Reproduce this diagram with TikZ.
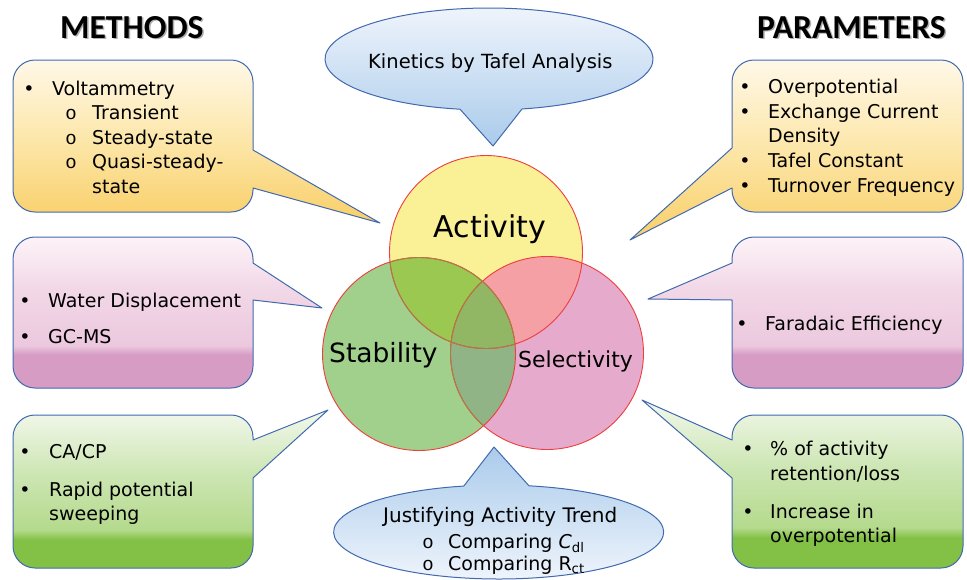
\documentclass[tikz,border=0pt]{standalone}
\usepackage{fontspec}
\newfontfamily\cs{DejaVu Sans}
\newfontfamily\tf{Carlito}
\newfontfamily\mo{Liberation Mono}
\definecolor{bord}{RGB}{65,105,175}
\definecolor{y1}{RGB}{255,248,232}
\definecolor{y2}{RGB}{252,230,168}
\definecolor{y3}{RGB}{249,207,104}
\definecolor{p1}{RGB}{253,243,247}
\definecolor{p2}{RGB}{242,216,231}
\definecolor{p3}{RGB}{236,200,222}
\definecolor{p4}{RGB}{214,156,196}
\definecolor{g1}{RGB}{242,248,236}
\definecolor{g2}{RGB}{205,230,180}
\definecolor{g3}{RGB}{180,218,140}
\definecolor{g4}{RGB}{130,192,70}
\definecolor{b1}{RGB}{240,245,252}
\definecolor{b2}{RGB}{170,203,235}
\definecolor{colA}{RGB}{250,240,150}
\definecolor{colT}{RGB}{160,208,140}
\definecolor{colL}{RGB}{230,170,205}
\definecolor{colAT}{RGB}{155,200,80}
\definecolor{colAL}{RGB}{245,160,165}
\definecolor{colTL}{RGB}{145,180,135}
\definecolor{colC}{RGB}{145,182,100}
\definecolor{redl}{RGB}{238,62,62}
\definecolor{brownl}{RGB}{170,125,70}
\pgfdeclareverticalshading{yelsh}{100bp}{color(0bp)=(y3); color(25bp)=(y3); color(50bp)=(y2); color(75bp)=(y1); color(100bp)=(y1)}
\pgfdeclareverticalshading{pinksh}{100bp}{color(0bp)=(p4); color(25bp)=(p4); color(36bp)=(p4); color(39bp)=(p3); color(58bp)=(p2); color(75bp)=(p1); color(100bp)=(p1)}
\pgfdeclareverticalshading{grnsh}{100bp}{color(0bp)=(g4); color(25bp)=(g4); color(34bp)=(g4); color(37bp)=(g3); color(55bp)=(g2); color(75bp)=(g1); color(100bp)=(g1)}
\pgfdeclareverticalshading{blutop}{100bp}{color(0bp)=(b2); color(25bp)=(b2); color(75bp)=(b1); color(100bp)=(b1)}
\pgfdeclareverticalshading{blubot}{100bp}{color(0bp)=(b1); color(25bp)=(b1); color(75bp)=(b2); color(100bp)=(b2)}
% callout with pointer on right edge: x1 y1 x2 y2 pa pb tipx tipy
\newcommand\callR[8]{%
  ({#1+22},#2) -- ({#3-22},#2) arc[start angle=270,end angle=360,radius=22]
  -- (#3,#5) -- (#7,#8) -- (#3,#6) -- (#3,{#4-22})
  arc[start angle=0,end angle=90,radius=22] -- ({#1+22},#4)
  arc[start angle=90,end angle=180,radius=22] -- (#1,{#2+22})
  arc[start angle=180,end angle=270,radius=22] -- cycle}
\newcommand\callL[8]{%
  ({#1+22},#2) -- ({#3-22},#2) arc[start angle=270,end angle=360,radius=22]
  -- (#3,{#4-22}) arc[start angle=0,end angle=90,radius=22] -- ({#1+22},#4)
  arc[start angle=90,end angle=180,radius=22] -- (#1,#6) -- (#7,#8) -- (#1,#5)
  -- (#1,{#2+22}) arc[start angle=180,end angle=270,radius=22] -- cycle}
\begin{document}
\begin{tikzpicture}[x=1pt,y=-1pt,
  box/.style={draw=bord,line width=1pt,line join=round},
  txt/.style={font=\cs\fontsize{19}{23}\selectfont,inner sep=0pt,anchor=base west},
  bul/.style={font=\cs\fontsize{19}{23}\selectfont,inner sep=0pt,anchor=base},
  sub/.style={font=\mo\fontsize{19}{23}\selectfont,inner sep=0pt,anchor=base},
  ttl/.style={font=\tf\bfseries\fontsize{33.6}{40}\selectfont,inner sep=0pt,anchor=base west},
  ttlsh/.style={ttl,text=black!45,opacity=0.7},
  ring/.style={draw=redl,line width=0.9pt},
  ringb/.style={draw=brownl,line width=0.9pt}]
\useasboundingbox (0,0) rectangle (967,579);
% callouts
\path[box,shade,shading=yelsh] \callR{13}{60}{253}{212}{150}{188}{380}{223};
\path[box,shade,shading=pinksh] \callR{13}{237}{253}{388}{263}{300}{322}{308};
\path[box,shade,shading=grnsh] \callR{13}{415}{253}{568}{440}{478}{328}{410};
\path[box,shade,shading=yelsh] \callL{732}{60}{963}{212}{148}{188}{630}{240};
\path[box,shade,shading=pinksh] \callL{732}{237}{963}{388}{263}{300}{648}{299};
\path[box,shade,shading=grnsh] \callL{732}{415}{963}{568}{440}{478}{642}{400};
% ellipses
\path[box,shade,shading=blutop] (460,109.2) arc[start angle=100.2,end angle=438.4,x radius=164,y radius=51] -- (493,146) -- cycle;
\path[box,shade,shading=blubot] (529,485.8) arc[start angle=280.6,end angle=617.8,x radius=165,y radius=47] -- (494,447) -- cycle;
% venn
\coordinate (cA) at (486,252);
\coordinate (cT) at (419,354);
\coordinate (cL) at (547,353);
\fill[colA] (cA) circle[radius=96.5];
\fill[colT] (cT) circle[radius=96.5];
\fill[colL] (cL) circle[radius=96.5];
\begin{scope}\clip (cT) circle[radius=96.5]; \fill[colAT] (cA) circle[radius=96.5];\end{scope}
\begin{scope}\clip (cL) circle[radius=96.5]; \fill[colAL] (cA) circle[radius=96.5];\end{scope}
\begin{scope}\clip (cT) circle[radius=96.5]; \fill[colTL] (cL) circle[radius=96.5];\end{scope}
\begin{scope}\clip (cT) circle[radius=96.5]; \clip (cL) circle[radius=96.5]; \fill[colC] (cA) circle[radius=96.5];\end{scope}
\path[ring] (cA) circle[radius=96.5] (cT) circle[radius=96.5] (cL) circle[radius=96.5];
\begin{scope}\clip (cT) circle[radius=96.5]; \path[ringb] (cA) circle[radius=96.5] (cL) circle[radius=96.5];\end{scope}
\begin{scope}\clip (cA) circle[radius=96.5]; \path[ringb] (cT) circle[radius=96.5];\end{scope}
% circle labels
\node[font=\cs\fontsize{30}{36}\selectfont,inner sep=0pt,anchor=base] (act) at (490,237) {Activity};
\node[font=\cs\fontsize{26.5}{32}\selectfont,inner sep=0pt,anchor=base west] (stab) at (329,362) {Stability};
\node[font=\cs\fontsize{22}{26}\selectfont,inner sep=0pt,anchor=base west] (sel) at (518,367) {Selectivity};
% titles
\node[ttlsh] (methsh) at (61.5,39.5) {METHODS};
\node[ttl] (meth) at (60,38) {METHODS};
\node[ttlsh] (parsh) at (758.5,39.5) {PARAMETERS};
\node[ttl] (par) at (757,38) {PARAMETERS};
% top-left
\node[bul] (tlb1) at (29,95) {•};
\node[txt] (tl1) at (52,95) {Voltammetry};
\node[sub] (tls1) at (71,119.5) {o};
\node[txt] (tl2) at (92,119.5) {Transient};
\node[sub] (tls2) at (71,144) {o};
\node[txt] (tl3) at (92,144) {Steady-state};
\node[sub] (tls3) at (71,168.5) {o};
\node[txt] (tl4) at (92,168.5) {Quasi-steady-};
\node[txt] (tl5) at (92,193) {state};
% top-right
\node[bul] (trb1) at (745,93) {•};
\node[txt] (tr1) at (768,93) {Overpotential};
\node[bul] (trb2) at (745,118) {•};
\node[txt] (tr2) at (768,118) {Exchange Current};
\node[txt] (tr3) at (768,142) {Density};
\node[bul] (trb3) at (745,167) {•};
\node[txt] (tr4) at (768,167) {Tafel Constant};
\node[bul] (trb4) at (745,192) {•};
\node[txt] (tr5) at (768,192) {Turnover Frequency};
% middle-left
\node[bul] (mlb1) at (25,307) {•};
\node[txt] (ml1) at (48,307) {Water Displacement};
\node[bul] (mlb2) at (25,343) {•};
\node[txt] (ml2) at (48,343) {GC-MS};
% middle-right
\node[bul] (mrb1) at (742,330) {•};
\node[txt] (mr1) at (765,330) {Faradaic Efficiency};
% bottom-left
\node[bul] (blb1) at (25,458) {•};
\node[txt] (bl1) at (49,458) {CA/CP};
\node[bul] (blb2) at (25,496) {•};
\node[txt] (bl2) at (49,496) {Rapid potential};
\node[txt] (bl3) at (49,520) {sweeping};
% bottom-right
\node[bul] (brb1) at (748,455) {•};
\node[txt] (br1) at (770,455) {\% of activity};
\node[txt] (br2) at (770,480) {retention/loss};
\node[bul] (brb2) at (748,518) {•};
\node[txt] (br3) at (770,518) {Increase in};
\node[txt] (br4) at (770,542) {overpotential};
% ellipse texts
\node[txt,font=\cs\fontsize{19.5}{23}\selectfont] (kin) at (368,68) {Kinetics by Tafel Analysis};
\node[txt,font=\cs\fontsize{20}{24}\selectfont] (jus) at (383,522) {Justifying Activity Trend};
\node[sub] (jss1) at (428,548) {o};
\node[txt] (js1) at (448,548) {Comparing \textit{C}\textsubscript{dl}};
\node[sub] (jss2) at (428,570) {o};
\node[txt] (js2) at (448,570) {Comparing R\textsubscript{ct}};
\end{tikzpicture}
\end{document}
